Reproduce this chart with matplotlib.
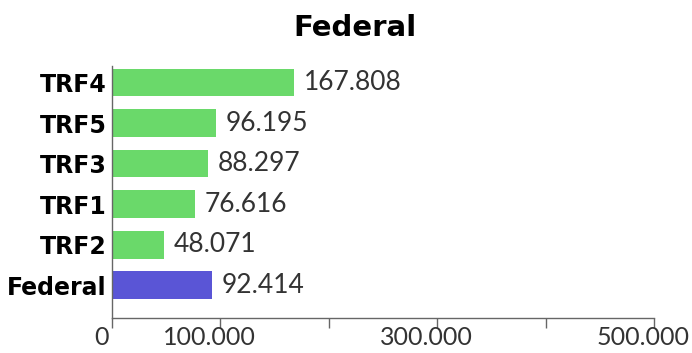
import matplotlib
matplotlib.use("Agg")
import matplotlib.pyplot as plt
import matplotlib.transforms as mtransforms
from matplotlib.ticker import FixedLocator

categories = ["Federal", "TRF2", "TRF1", "TRF3", "TRF5", "TRF4"]
values = [92414, 48071, 76616, 88297, 96195, 167808]
value_labels = ["92.414", "48.071", "76.616", "88.297", "96.195", "167.808"]
colors = ["#5a55d6", "#6ad96a", "#6ad96a", "#6ad96a", "#6ad96a", "#6ad96a"]
tick_values = [0, 100000, 200000, 300000, 400000, 500000]
tick_labels = ["0", "100.000", "", "300.000", "", "500.000"]
title = "Federal"

fig = plt.figure(figsize=(6.92, 3.53), dpi=100)
ax = fig.add_axes([0.162, 0.1, 0.783, 0.713])

y = list(range(len(categories)))
ax.barh(y, values, height=0.68, color=colors)
for yi, v, lab in zip(y, values, value_labels):
    ax.text(v + 9000, yi, lab, va="center", ha="left", fontsize=19,
            family="Lato", color="#333333")

ax.set_xlim(0, 500000)
ax.set_ylim(-0.8, 5.41)
ax.set_yticks(y)
ax.set_yticklabels(categories, fontsize=17, fontweight="bold",
                   family="DejaVu Sans")
ax.tick_params(axis="y", length=0, pad=4)
ax.xaxis.set_major_locator(FixedLocator(tick_values))
ax.set_xticklabels(tick_labels, fontsize=18, family="Lato",
                   color="#333333")
ax.tick_params(axis="x", length=7, width=1, color="#666666", pad=-1)
shift = mtransforms.ScaledTranslation(-11 / 100, 0, fig.dpi_scale_trans)
for lbl in ax.get_xticklabels():
    lbl.set_transform(lbl.get_transform() + shift)

for s in ["top", "right"]:
    ax.spines[s].set_visible(False)
for s in ["left", "bottom"]:
    ax.spines[s].set_color("#666666")
    ax.spines[s].set_linewidth(1)

fig.text(0.513, 0.92, title, ha="center", va="center", fontsize=21,
         fontweight="bold", family="DejaVu Sans")

fig.savefig("out.png", dpi=100)
